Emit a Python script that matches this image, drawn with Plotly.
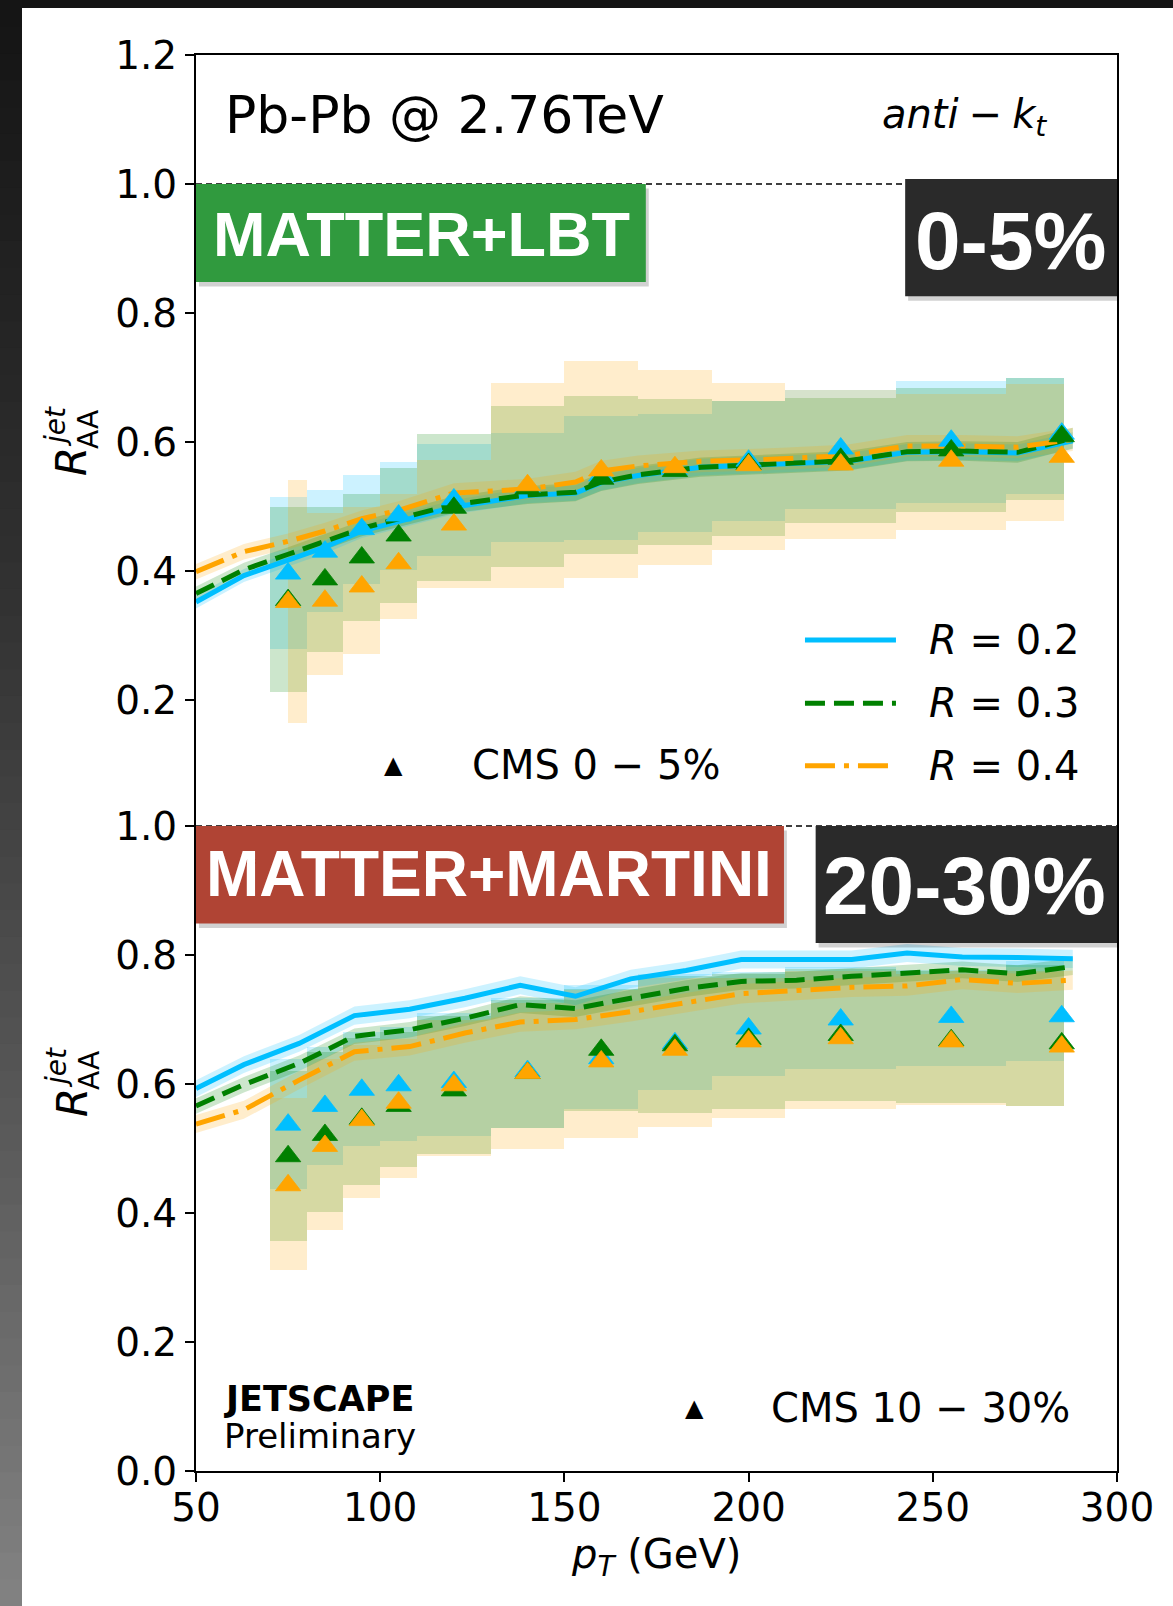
import plotly.graph_objects as go

W, H = 1173, 1606
ML, MR, MT, MB = 196, 56, 55, 135
LOW_FRAC = 645 / 1416.0

# ---------------- data ----------------
# theory (JETSCAPE) -- upper panel: MATTER+LBT, 0-5%
th_up_pt = [50, 63, 75, 85, 95, 105, 120, 140, 153, 160, 170, 187, 209, 227, 243, 258, 273, 288]
th_up_r02 = [0.352, 0.393, 0.417, 0.437, 0.462, 0.477, 0.499, 0.517, 0.521, 0.537, 0.548, 0.561, 0.566, 0.570, 0.584, 0.585, 0.583, 0.602]
th_up_r03 = [0.365, 0.402, 0.426, 0.445, 0.466, 0.481, 0.503, 0.518, 0.522, 0.538, 0.549, 0.561, 0.566, 0.571, 0.585, 0.586, 0.584, 0.606]
th_up_r04 = [0.399, 0.430, 0.446, 0.462, 0.481, 0.494, 0.521, 0.527, 0.538, 0.555, 0.563, 0.570, 0.574, 0.579, 0.594, 0.594, 0.592, 0.604]
th_up_r02_err = [0.010, 0.010, 0.010, 0.010, 0.011, 0.011, 0.011, 0.012, 0.012, 0.012, 0.012, 0.013, 0.013, 0.013, 0.013, 0.013, 0.013, 0.013]
th_up_r03_err = [0.011, 0.011, 0.011, 0.012, 0.012, 0.012, 0.013, 0.014, 0.014, 0.014, 0.014, 0.015, 0.015, 0.015, 0.015, 0.015, 0.016, 0.016]
th_up_r04_err = [0.012, 0.012, 0.012, 0.013, 0.013, 0.014, 0.015, 0.016, 0.016, 0.016, 0.016, 0.017, 0.017, 0.017, 0.017, 0.017, 0.017, 0.018]

# theory -- lower panel: MATTER+MARTINI, 20-30%
th_lo_pt = [50, 63, 78, 93, 108, 123, 138, 153, 168, 183, 198, 213, 228, 243, 258, 273, 288]
th_lo_r02 = [0.593, 0.630, 0.663, 0.706, 0.716, 0.733, 0.753, 0.736, 0.763, 0.776, 0.793, 0.793, 0.793, 0.803, 0.797, 0.796, 0.794]
th_lo_r03 = [0.566, 0.599, 0.632, 0.674, 0.684, 0.702, 0.723, 0.717, 0.733, 0.748, 0.759, 0.761, 0.767, 0.772, 0.777, 0.771, 0.782]
th_lo_r04 = [0.538, 0.560, 0.606, 0.650, 0.658, 0.679, 0.696, 0.700, 0.712, 0.726, 0.740, 0.745, 0.750, 0.752, 0.762, 0.756, 0.761]
th_lo_r02_err = [0.013, 0.013, 0.013, 0.014, 0.014, 0.014, 0.014, 0.014, 0.014, 0.014, 0.014, 0.014, 0.014, 0.014, 0.014, 0.014, 0.014]
th_lo_r03_err = [0.012, 0.012, 0.012, 0.012, 0.012, 0.012, 0.013, 0.013, 0.013, 0.013, 0.013, 0.013, 0.013, 0.013, 0.013, 0.013, 0.013]
th_lo_r04_err = [0.014, 0.014, 0.014, 0.014, 0.014, 0.015, 0.015, 0.015, 0.015, 0.015, 0.015, 0.015, 0.015, 0.015, 0.015, 0.015, 0.015]

# CMS data points and systematic boxes
cms_pt = [75, 85, 95, 105, 120, 140, 160, 180, 200, 225, 255, 285]
cms_bin_lo = [70, 80, 90, 100, 110, 130, 150, 170, 190, 210, 240, 270]
cms_bin_lo_up_r04 = [75, 80, 90, 100, 110, 130, 150, 170, 190, 210, 240, 270]
cms_bin_hi = [80, 90, 100, 110, 130, 150, 170, 190, 210, 240, 270, 285.6]

# CMS 0-5%
cms_up_r02 = [0.396, 0.430, 0.465, 0.486, 0.511, 0.530, 0.548, 0.558, 0.571, 0.590, 0.602, 0.613]
cms_up_r03 = [0.355, 0.387, 0.421, 0.455, 0.498, 0.528, 0.543, 0.555, 0.566, 0.574, 0.587, 0.609]
cms_up_r04 = [0.352, 0.354, 0.376, 0.412, 0.472, 0.533, 0.556, 0.561, 0.564, 0.565, 0.571, 0.577]
cms_up_r02_sys_lo = [0.279, 0.337, 0.380, 0.402, 0.424, 0.445, 0.448, 0.460, 0.477, 0.496, 0.506, 0.520]
cms_up_r02_sys_hi = [0.515, 0.525, 0.549, 0.569, 0.597, 0.614, 0.640, 0.644, 0.663, 0.680, 0.694, 0.699]
cms_up_r03_sys_lo = [0.213, 0.275, 0.323, 0.351, 0.384, 0.407, 0.427, 0.441, 0.455, 0.475, 0.491, 0.510]
cms_up_r03_sys_hi = [0.499, 0.499, 0.520, 0.559, 0.612, 0.656, 0.671, 0.666, 0.663, 0.668, 0.683, 0.699]
cms_up_r04_sys_lo = [0.164, 0.239, 0.272, 0.325, 0.373, 0.373, 0.389, 0.409, 0.433, 0.449, 0.463, 0.477]
cms_up_r04_sys_hi = [0.541, 0.490, 0.500, 0.520, 0.572, 0.691, 0.726, 0.711, 0.692, 0.680, 0.675, 0.690]

# CMS 10-30%
cms_lo_r02 = [0.537, 0.566, 0.591, 0.598, 0.603, 0.620, 0.640, 0.663, 0.686, 0.700, 0.704, 0.705]
cms_lo_r03 = [0.488, 0.521, 0.546, 0.566, 0.590, 0.617, 0.653, 0.660, 0.670, 0.676, 0.668, 0.663]
cms_lo_r04 = [0.443, 0.504, 0.544, 0.571, 0.598, 0.617, 0.635, 0.653, 0.666, 0.671, 0.666, 0.658]
cms_lo_r02_sys_lo = [0.437, 0.475, 0.504, 0.512, 0.520, 0.532, 0.562, 0.590, 0.612, 0.623, 0.628, 0.635]
cms_lo_r02_sys_hi = [0.638, 0.658, 0.680, 0.689, 0.710, 0.734, 0.753, 0.771, 0.774, 0.782, 0.777, 0.790]
cms_lo_r03_sys_lo = [0.357, 0.402, 0.444, 0.472, 0.491, 0.532, 0.558, 0.555, 0.561, 0.573, 0.570, 0.566]
cms_lo_r03_sys_hi = [0.620, 0.650, 0.672, 0.680, 0.705, 0.730, 0.748, 0.768, 0.770, 0.778, 0.775, 0.785]
cms_lo_r04_sys_lo = [0.311, 0.374, 0.423, 0.454, 0.488, 0.500, 0.516, 0.534, 0.548, 0.562, 0.568, 0.566]
cms_lo_r04_sys_hi = [0.578, 0.638, 0.660, 0.670, 0.700, 0.725, 0.745, 0.765, 0.765, 0.775, 0.770, 0.775]

x_ticks = [50, 100, 150, 200, 250, 300]
y_lo_ticks = [0.0, 0.2, 0.4, 0.6, 0.8, 1.0]
y_up_ticks = [0.2, 0.4, 0.6, 0.8, 1.0, 1.2]
radii_labels = ["0.2", "0.3", "0.4"]

# ---------------- styles ----------------
C_BLUE = (0, 191, 255)
C_GREEN = (0, 128, 0)
C_ORANGE = (255, 165, 0)
DASH = {"blue": "solid", "green": "20px,9px", "orange": "30px,9px,5px,9px"}
FONT = "DejaVu Sans"
LW = 5


def rgba(c, a):
    return "rgba(%d,%d,%d,%s)" % (c[0], c[1], c[2], a)


def px_x(X):
    return (X - ML) / float(W - ML - MR)


def px_y(Y):
    return (H - MB - Y) / float(H - MT - MB)


fig = go.Figure()


def add_boxes(xl, xh, lo, hi, col, xa, ya):
    fig.add_trace(go.Bar(
        x=xl, y=[h - l for h, l in zip(hi, lo)], base=lo,
        width=[b - a for a, b in zip(xl, xh)], offset=0,
        marker=dict(color=rgba(col, 0.2), line=dict(width=0)),
        xaxis=xa, yaxis=ya, hoverinfo="skip"))


def add_band(pt, val, err, col, xa, ya):
    up = [v + e for v, e in zip(val, err)]
    dn = [v - e for v, e in zip(val, err)]
    fig.add_trace(go.Scatter(
        x=list(pt) + list(pt)[::-1], y=up + dn[::-1], fill="toself",
        fillcolor=rgba(col, 0.2), line=dict(width=0), mode="lines",
        xaxis=xa, yaxis=ya, hoverinfo="skip"))


def add_line(pt, val, col, dash, xa, ya):
    fig.add_trace(go.Scatter(
        x=pt, y=val, mode="lines", line=dict(color=rgba(col, 1), width=LW, dash=dash),
        xaxis=xa, yaxis=ya, hoverinfo="skip"))


def add_pts(pt, val, col, xa, ya):
    fig.add_trace(go.Scatter(
        x=pt, y=val, mode="markers",
        marker=dict(symbol="triangle-up", size=22, color=rgba(col, 1),
                    line=dict(color=rgba(col, 1), width=0.8)),
        xaxis=xa, yaxis=ya, hoverinfo="skip"))


# upper panel (x2, y2)
add_boxes(cms_bin_lo, cms_bin_hi, cms_up_r02_sys_lo, cms_up_r02_sys_hi, C_BLUE, "x2", "y2")
add_boxes(cms_bin_lo, cms_bin_hi, cms_up_r03_sys_lo, cms_up_r03_sys_hi, C_GREEN, "x2", "y2")
add_boxes(cms_bin_lo_up_r04, cms_bin_hi, cms_up_r04_sys_lo, cms_up_r04_sys_hi, C_ORANGE, "x2", "y2")
add_band(th_up_pt, th_up_r02, th_up_r02_err, C_BLUE, "x2", "y2")
add_band(th_up_pt, th_up_r03, th_up_r03_err, C_GREEN, "x2", "y2")
add_band(th_up_pt, th_up_r04, th_up_r04_err, C_ORANGE, "x2", "y2")
add_line(th_up_pt, th_up_r02, C_BLUE, DASH["blue"], "x2", "y2")
add_line(th_up_pt, th_up_r03, C_GREEN, DASH["green"], "x2", "y2")
add_line(th_up_pt, th_up_r04, C_ORANGE, DASH["orange"], "x2", "y2")
add_pts(cms_pt, cms_up_r02, C_BLUE, "x2", "y2")
add_pts(cms_pt, cms_up_r03, C_GREEN, "x2", "y2")
add_pts(cms_pt, cms_up_r04, C_ORANGE, "x2", "y2")

# lower panel (x, y)
add_boxes(cms_bin_lo, cms_bin_hi, cms_lo_r02_sys_lo, cms_lo_r02_sys_hi, C_BLUE, "x", "y")
add_boxes(cms_bin_lo, cms_bin_hi, cms_lo_r03_sys_lo, cms_lo_r03_sys_hi, C_GREEN, "x", "y")
add_boxes(cms_bin_lo, cms_bin_hi, cms_lo_r04_sys_lo, cms_lo_r04_sys_hi, C_ORANGE, "x", "y")
add_band(th_lo_pt, th_lo_r02, th_lo_r02_err, C_BLUE, "x", "y")
add_band(th_lo_pt, th_lo_r03, th_lo_r03_err, C_GREEN, "x", "y")
add_band(th_lo_pt, th_lo_r04, th_lo_r04_err, C_ORANGE, "x", "y")
add_line(th_lo_pt, th_lo_r02, C_BLUE, DASH["blue"], "x", "y")
add_line(th_lo_pt, th_lo_r03, C_GREEN, DASH["green"], "x", "y")
add_line(th_lo_pt, th_lo_r04, C_ORANGE, DASH["orange"], "x", "y")
add_pts(cms_pt, cms_lo_r02, C_BLUE, "x", "y")
add_pts(cms_pt, cms_lo_r03, C_GREEN, "x", "y")
add_pts(cms_pt, cms_lo_r04, C_ORANGE, "x", "y")

# ---------------- decorations ----------------
shapes = []
# page frame: dark top strip and graded left strip
shapes.append(dict(type="rect", xref="paper", yref="paper", x0=px_x(0), x1=px_x(W),
                   y0=px_y(8), y1=px_y(-2), fillcolor="#141414", line=dict(width=0), layer="above"))
anchors = [(0, 20), (600, 50), (1200, 95), (1606, 130)]


def gray_at(Y):
    for (y0, g0), (y1, g1) in zip(anchors[:-1], anchors[1:]):
        if y0 <= Y <= y1:
            return g0 + (g1 - g0) * (Y - y0) / float(y1 - y0)
    return anchors[-1][1]


NSEG = 60
for i in range(NSEG):
    Y0 = H * i / NSEG
    Y1 = H * (i + 1) / NSEG + 1
    g = int(round(gray_at((Y0 + Y1) / 2)))
    shapes.append(dict(type="rect", xref="paper", yref="paper", x0=px_x(-2), x1=px_x(22),
                       y0=px_y(Y1), y1=px_y(Y0), fillcolor="rgb(%d,%d,%d)" % (g, g, g),
                       line=dict(width=0), layer="above"))

# dashed unity lines
shapes.append(dict(type="line", xref="x2", yref="y2", x0=50, x1=300, y0=1.0, y1=1.0,
                   line=dict(color="black", width=1.5, dash="6px,4px")))
shapes.append(dict(type="line", xref="paper", yref="paper", x0=0, x1=1, y0=LOW_FRAC, y1=LOW_FRAC,
                   line=dict(color="black", width=1.5, dash="6px,4px")))


def label_box(xref, yref, x0, x1, y0, y1, color):
    # soft drop shadow then box
    shapes.append(dict(type="rect", xref=xref, yref=yref, x0=x0 + 0.8, x1=x1 + 0.8,
                       y0=y0 - 0.007, y1=y1 - 0.007, fillcolor="rgba(0,0,0,0.18)",
                       line=dict(width=0), layer="above"))
    shapes.append(dict(type="rect", xref=xref, yref=yref, x0=x0, x1=x1, y0=y0, y1=y1,
                       fillcolor=color, line=dict(width=0), layer="above"))


label_box("x2", "y2", 50, 172.1, 0.848, 1.0, "#309a3e")
label_box("x2", "y2", 242.5, 300, 0.826, 1.0076, "#2a2a2a")
label_box("x", "y", 50, 209.6, 0.849, 1.0, "#b04434")
label_box("x", "y", 218.2, 300, 0.8186, 1.0, "#2a2a2a")

# legend sample lines
leg_y = [0.293, 0.195, 0.098]
for (col, dkey), yy in zip([(C_BLUE, "blue"), (C_GREEN, "green"), (C_ORANGE, "orange")], leg_y):
    shapes.append(dict(type="line", xref="x2", yref="y2", x0=215.3, x1=240.0, y0=yy, y1=yy,
                       line=dict(color=rgba(col, 1), width=LW, dash=DASH[dkey])))

ann = []


def txt(x, y, text, size, xref="x2", yref="y2", xanchor="left", color="black",
        family=FONT, angle=0, yanchor="middle"):
    ann.append(dict(x=x, y=y, xref=xref, yref=yref, text=text, showarrow=False,
                    xanchor=xanchor, yanchor=yanchor, textangle=angle,
                    font=dict(family=family, size=size, color=color)))


SP = "\u2005"
txt(57.3, 1.107, "Pb-Pb @ 2.76TeV", 52)
txt(281.5, 1.104, "<i>anti</i>" + SP + "−" + SP + "<i>k</i><sub><i>t</i></sub>", 40, xanchor="right")
txt(111.1, 0.922, "<b>MATTER+LBT</b>", 63, xanchor="center", color="white", family="Liberation Sans")
txt(271.0, 0.913, "<b>0-5%</b>", 82, xanchor="center", color="white", family="Liberation Sans")
for r, yy in zip(radii_labels, leg_y):
    txt(248.5, yy, "<i>R</i> = " + r, 40)
txt(103.7, 0.100, "▲", 24, xanchor="center")
txt(124.4, 0.100, "CMS 0 − 5%", 40)

txt(129.5, 0.925, "<b>MATTER+MARTINI</b>", 64, xref="x", yref="y", xanchor="center",
    color="white", family="Liberation Sans")
txt(258.7, 0.907, "<b>20-30%</b>", 82, xref="x", yref="y", xanchor="center",
    color="white", family="Liberation Sans")
txt(57.0, 0.111, "<b>JETSCAPE</b>", 35, xref="x", yref="y")
txt(57.0, 0.054, "Preliminary", 34, xref="x", yref="y")
txt(185.2, 0.097, "▲", 24, xref="x", yref="y", xanchor="center")
txt(205.6, 0.097, "CMS 10 − 30%", 40, xref="x", yref="y")

# axis titles: R with stacked "jet" (superscript) and "AA" (subscript), rotated
for dy in (0, 641):
    txt(px_x(72), px_y(1103 - dy), "<i>R</i>", 42, xref="paper", yref="paper",
        xanchor="center", angle=-90)
    txt(px_x(56), px_y(1068 - dy), "<i>jet</i>", 28, xref="paper", yref="paper",
        xanchor="center", angle=-90)
    txt(px_x(89), px_y(1071 - dy), "AA", 28, xref="paper", yref="paper",
        xanchor="center", angle=-90)
txt(px_x(656), px_y(1557), "<i>p</i><sub><i>T</i></sub> (GeV)", 40, xref="paper", yref="paper",
    xanchor="center")

tickfont = dict(family=FONT, size=39, color="black")
common_y = dict(showgrid=False, zeroline=False, showline=True, linecolor="black", linewidth=2,
                mirror=True, ticks="outside", ticklen=9, tickwidth=1.8, tickcolor="black",
                tickfont=tickfont)

fig.update_layout(
    width=W, height=H,
    margin=dict(l=ML, r=MR, t=MT, b=MB, pad=0),
    paper_bgcolor="white", plot_bgcolor="white",
    showlegend=False, barmode="overlay", bargap=0,
    xaxis=dict(domain=[0, 1], range=[50, 300], anchor="y", tickvals=x_ticks,
               ticktext=[str(v) for v in x_ticks], showgrid=False, zeroline=False,
               showline=True, linecolor="black", linewidth=2, mirror=False,
               ticks="outside", ticklen=9, tickwidth=1.8, tickcolor="black", tickfont=tickfont,
               ticklabelstandoff=-8),
    xaxis2=dict(domain=[0, 1], range=[50, 300], anchor="y2", matches="x", side="top",
                showticklabels=False, ticks="", showgrid=False, zeroline=False,
                showline=True, linecolor="black", linewidth=2, mirror=False),
    yaxis=dict(domain=[0, LOW_FRAC], range=[0, 1.0], anchor="x", tickvals=y_lo_ticks,
               ticktext=["%.1f" % v for v in y_lo_ticks], **common_y),
    yaxis2=dict(domain=[LOW_FRAC, 1], range=[0.0047, 1.2], anchor="x2", tickvals=y_up_ticks,
                ticktext=["%.1f" % v for v in y_up_ticks], **common_y),
    shapes=shapes, annotations=ann,
)

fig.write_html("out.html")
